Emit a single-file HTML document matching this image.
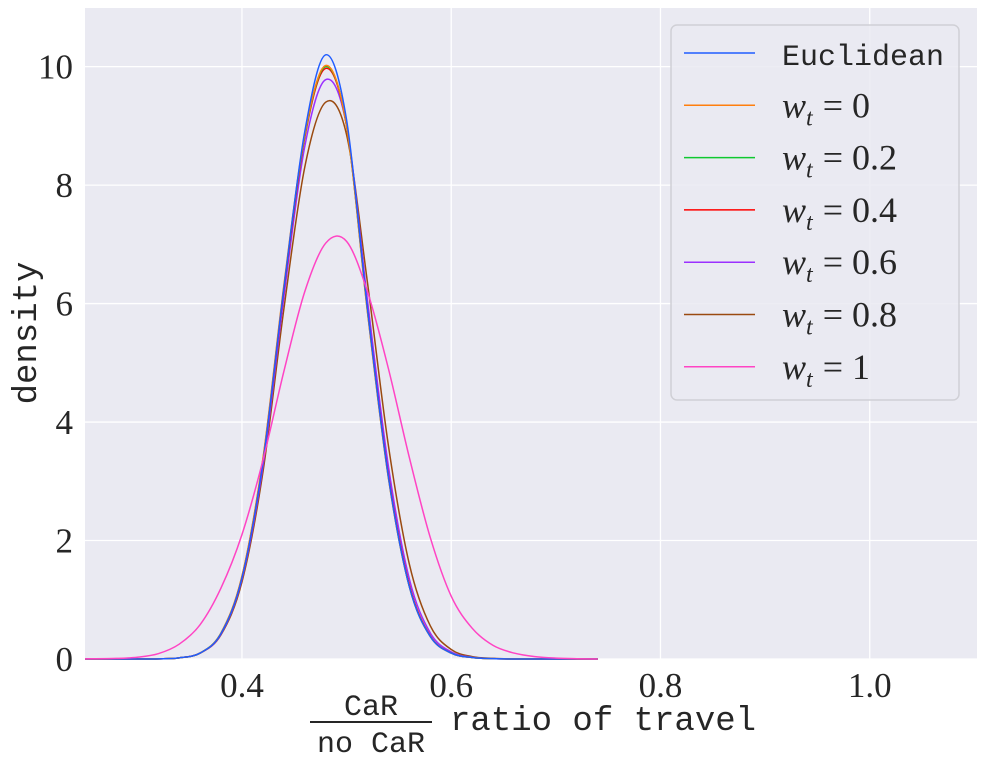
<!DOCTYPE html>
<html><head><meta charset="utf-8"><style>
html,body{margin:0;padding:0;background:#fff;}
svg{display:block;}
.tick{font-family:"Liberation Serif",serif;font-size:35px;fill:#262626;}
.mono{font-family:"Liberation Mono",monospace;fill:#262626;}
.leg{font-family:"Liberation Serif",serif;font-size:36px;fill:#262626;}
</style></head><body>
<svg id="chart" width="983" height="762">
<rect x="85" y="8" width="892" height="651" fill="#eaeaf2"/>
<g id="grid"></g>
<g id="ticks"></g>
<g id="series"></g>
<text class="mono" font-size="34" transform="translate(36,333) rotate(-90)" text-anchor="middle">density</text>
<g>
<text class="mono" font-size="30" x="371" y="715" text-anchor="middle">CaR</text>
<line x1="310" y1="722" x2="432" y2="722" stroke="#262626" stroke-width="2"/>
<text class="mono" font-size="30" x="371" y="752" text-anchor="middle">no CaR</text>
<text class="mono" font-size="34" x="450" y="730">ratio of travel</text>
</g>
<g id="legend">
<rect x="671" y="25" width="288" height="375" rx="6" fill="#eaeaf2" fill-opacity="0.85" stroke="#d0d0d6" stroke-width="1.5"/>
</g>
</svg>
<script>
const xGrid=[0.25,0.28,0.30,0.32,0.34,0.36,0.38,0.40,0.42,0.44,0.46,0.48,0.50,0.52,0.54,0.56,0.58,0.60,0.62,0.64,0.66,0.68,0.70,0.72,0.74];
const seriesNames=["Euclidean","w_t = 0","w_t = 0.2","w_t = 0.4","w_t = 0.6","w_t = 0.8","w_t = 1"];
const legendLabels=["Euclidean","0","0.2","0.4","0.6","0.8","1"];
const seriesColors=["#1f5cff","#ff7f0e","#10c830","#ff0000","#9b30ff","#9a4a10","#ff44c4"];
const dEuclid=[0,0,0,0.003,0.02,0.1,0.43,1.37,3.32,6.25,8.9,10.2,9.1,5.9,3.07,1.22,0.38,0.1,0.025,0.006,0,0,0,0,0];
const dW0=[0,0,0,0.003,0.02,0.1,0.44,1.4,3.38,6.3,8.85,10.02,9.0,5.85,3.05,1.22,0.38,0.1,0.025,0.006,0,0,0,0,0];
const dW02=[0,0,0,0.003,0.02,0.1,0.44,1.39,3.36,6.27,8.83,10.0,9.0,5.86,3.06,1.22,0.38,0.1,0.025,0.006,0,0,0,0,0];
const dW04=[0,0,0,0.003,0.02,0.1,0.43,1.38,3.33,6.22,8.8,9.97,9.0,5.9,3.1,1.25,0.39,0.1,0.025,0.006,0,0,0,0,0];
const dW06=[0,0,0,0.003,0.02,0.1,0.42,1.35,3.25,6.1,8.65,9.78,9.0,6.05,3.25,1.35,0.44,0.12,0.03,0.007,0,0,0,0,0];
const dW08=[0,0,0,0.003,0.02,0.1,0.41,1.3,3.15,5.9,8.3,9.4,8.85,6.35,3.6,1.6,0.56,0.16,0.04,0.01,0,0,0,0,0];
const dW1=[0.002,0.01,0.03,0.09,0.25,0.58,1.2,2.1,3.35,4.85,6.2,7.02,7.05,6.2,4.9,3.4,2.05,1.06,0.52,0.23,0.1,0.04,0.015,0.005,0];
const allSeries=[dEuclid,dW0,dW02,dW04,dW06,dW08,dW1];
const xTicks=[0.4,0.6,0.8,1.0];
const xTickLabels=["0.4","0.6","0.8","1.0"];
const yTicks=[0,2,4,6,8,10];
const yTickLabels=["0","2","4","6","8","10"];

const X0=85,X1=977,Y0=659,Y1=8,xMin=0.25,xMax=1.1025,yMin=0,yMax=10.99;
const sx=v=>X0+(v-xMin)/(xMax-xMin)*(X1-X0);
const sy=v=>Y0-(v-yMin)/(yMax-yMin)*(Y0-Y1);
const NS="http://www.w3.org/2000/svg";
function mk(tag,attrs,parent){const e=document.createElementNS(NS,tag);for(const k in attrs)e.setAttribute(k,attrs[k]);parent.appendChild(e);return e;}
const grid=document.getElementById('grid'),ticks=document.getElementById('ticks');
xTicks.forEach((t,i)=>{
  const l=mk('line',{x1:sx(t),x2:sx(t),y1:Y1,y2:Y0,stroke:'#fff','stroke-width':1.3},grid);
  
  
  const tx=mk('text',{x:sx(t),y:697,'text-anchor':'middle',class:'tick'},ticks);
  tx.textContent=xTickLabels[i];
  
  
});
yTicks.forEach((t,i)=>{
  const l=mk('line',{x1:X0,x2:X1,y1:sy(t),y2:sy(t),stroke:'#fff','stroke-width':1.3},grid);
  
  
  const tx=mk('text',{x:73,y:sy(t)+12,'text-anchor':'end',class:'tick'},ticks);
  tx.textContent=yTickLabels[i];
  
  
});
function smoothPath(xs,ys){
  const p=xs.map((x,i)=>[sx(x),sy(ys[i])]);
  let d='M'+p[0][0].toFixed(2)+','+p[0][1].toFixed(2);
  for(let i=0;i<p.length-1;i++){
    const p0=p[i-1]||p[i],p1=p[i],p2=p[i+1],p3=p[i+2]||p2;
    const c1=[p1[0]+(p2[0]-p0[0])/6,Math.min(Y0,p1[1]+(p2[1]-p0[1])/6)];
    const c2=[p2[0]-(p3[0]-p1[0])/6,Math.min(Y0,p2[1]-(p3[1]-p1[1])/6)];
    d+=' C'+c1.map(v=>v.toFixed(2)).join(',')+' '+c2.map(v=>v.toFixed(2)).join(',')+' '+p2[0].toFixed(2)+','+p2[1].toFixed(2);
  }
  return d;
}
const sg=document.getElementById('series');
[5,4,3,2,1,0,6].forEach(i=>{
  const path=mk('path',{d:smoothPath(xGrid,allSeries[i]),fill:'none',stroke:seriesColors[i],'stroke-width':1.5},sg);
  
  
});
const lg=document.getElementById('legend');
seriesNames.forEach((n,i)=>{
  const y=53+i*52.3;
  const g=mk('g',{},lg);
  
  
  mk('line',{x1:684,x2:755,y1:y,y2:y,stroke:seriesColors[i],'stroke-width':1.5},g);
  const t=mk('text',{x:782,y:y+12},g);
  if(i===0){t.setAttribute('class','mono');t.setAttribute('font-size','30');t.textContent=legendLabels[i];}
  else{
    t.setAttribute('class','leg');
    const a=mk('tspan',{'font-style':'italic'},t);a.textContent='w';
    const b=mk('tspan',{'font-style':'italic','font-size':'24',dy:'8'},t);b.textContent='t';
    const c=mk('tspan',{dy:'-8',dx:'10'},t);c.textContent='= '+legendLabels[i];
  }
});
</script>
</body></html>
